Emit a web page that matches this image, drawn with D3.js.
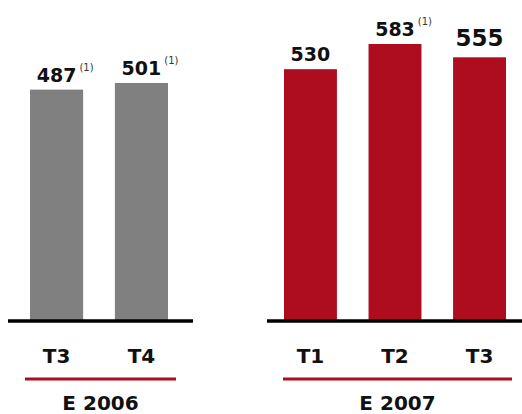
<!DOCTYPE html>
<html>
<head>
<meta charset="utf-8">
<script src="https://cdn.jsdelivr.net/npm/d3@7"></script>
<style>
  html, body { margin: 0; padding: 0; background: #fff; }
  text { font-family: "DejaVu Sans", Verdana, sans-serif; fill: #111; }
</style>
</head>
<body>
<div id="chart"></div>
<script>
// data
const quarters2006 = ["T3", "T4"];
const values2006 = [487, 501];
const notes2006 = ["(1)", "(1)"];
const quarters2007 = ["T1", "T2", "T3"];
const values2007 = [530, 583, 555];
const notes2007 = ["", "(1)", ""];
const groupLabels = ["E 2006", "E 2007"];

const w = 522, h = 414;
const base = 321;

const svg = d3.select("#chart").append("svg")
  .attr("width", w)
  .attr("height", h);

// shared value scale, zero based
const y = d3.scaleLinear().domain([0, 583]).range([base, 44]);

const groups = [
  { label: groupLabels[0], cats: quarters2006, vals: values2006, notes: notes2006,
    color: "#808080", barRange: [30, 168], line: [8, 193], under: [25, 176] },
  { label: groupLabels[1], cats: quarters2007, vals: values2007, notes: notes2007,
    color: "#ae0d1f", barRange: [284, 506], line: [267, 522], under: [283, 512] }
];

groups.forEach((g, gi) => {
  const x = d3.scaleBand()
    .domain(g.cats)
    .range(g.barRange)
    .paddingInner(0.374)
    .paddingOuter(0);

  const rows = g.cats.map((c, i) => ({ cat: c, val: g.vals[i], note: g.notes[i],
    big: gi === groups.length - 1 && i === g.cats.length - 1 }));

  const grp = svg.append("g");

  // bars
  grp.selectAll("rect.bar")
    .data(rows)
    .enter()
    .append("rect")
    .attr("class", "bar")
    .attr("x", d => x(d.cat))
    .attr("y", d => y(d.val))
    .attr("width", x.bandwidth())
    .attr("height", d => y(0) - y(d.val))
    .attr("fill", g.color);

  // value labels
  const lab = grp.selectAll("text.val")
    .data(rows)
    .enter()
    .append("text")
    .attr("class", "val")
    .attr("x", d => x(d.cat) + x.bandwidth() / 2)
    .attr("y", d => y(d.val) - (d.big ? 11 : 8))
    .attr("text-anchor", "middle")
    .style("font-weight", "bold")
    .style("font-size", d => d.big ? "23px" : "19px")
    .text(d => d.val);

  // footnote markers
  lab.each(function(d) {
    if (!d.note) return;
    const bb = this.getBBox();
    grp.append("text")
      .attr("x", bb.x + bb.width + 3)
      .attr("y", y(d.val) - 19)
      .style("font-size", "10px")
      .style("fill", "#333")
      .text(d.note);
  });

  // baseline
  grp.append("line")
    .attr("x1", g.line[0]).attr("x2", g.line[1])
    .attr("y1", base).attr("y2", base)
    .attr("stroke", "#000")
    .attr("stroke-width", 3.5);

  // category axis
  const axis = d3.axisBottom(x).tickSize(0).tickPadding(0);
  const ag = grp.append("g")
    .attr("transform", `translate(0,${base + 42})`)
    .call(axis);
  ag.select(".domain").remove();
  ag.selectAll("text")
    .attr("dy", 0)
    .style("font-family", "DejaVu Sans, sans-serif")
    .style("font-weight", "bold")
    .style("font-size", "20px")
    .style("fill", "#111");

  // red underline and group label
  grp.append("line")
    .attr("x1", g.under[0]).attr("x2", g.under[1])
    .attr("y1", 379).attr("y2", 379)
    .attr("stroke", "#ae0d1f")
    .attr("stroke-width", 3);

  grp.append("text")
    .attr("x", (g.under[0] + g.under[1]) / 2)
    .attr("y", 410)
    .attr("text-anchor", "middle")
    .style("font-weight", "bold")
    .style("font-size", "20px")
    .text(g.label);
});
</script>
</body>
</html>
